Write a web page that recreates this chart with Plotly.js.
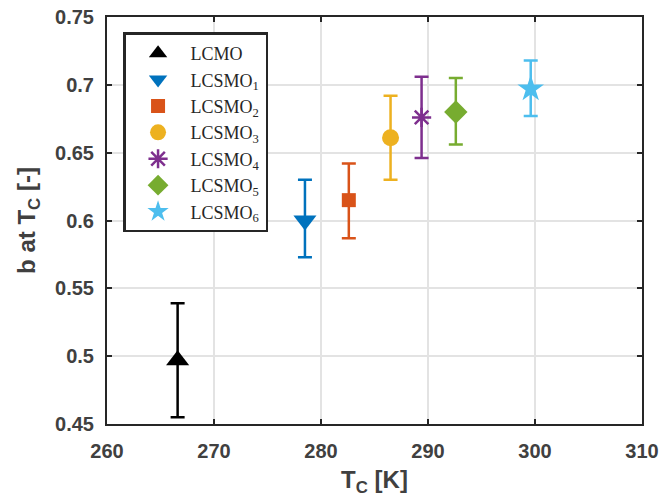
<!DOCTYPE html>
<html>
<head>
<meta charset="utf-8">
<script src="https://cdn.plot.ly/plotly-3.0.1.min.js"></script>
<style>html,body{margin:0;padding:0;background:#fff;}#chart{width:663px;height:500px;}</style>
</head>
<body>
<div id="chart"></div>
<script>
const names = ["LCMO", "LCSMO<sub>1</sub>", "LCSMO<sub>2</sub>", "LCSMO<sub>3</sub>", "LCSMO<sub>4</sub>", "LCSMO<sub>5</sub>", "LCSMO<sub>6</sub>"];
const tc = [266.6, 278.5, 282.6, 286.5, 289.4, 292.6, 299.6];
const bVal = [0.497, 0.600, 0.615, 0.661, 0.676, 0.680, 0.697];
const errPlus = [0.042, 0.030, 0.027, 0.031, 0.030, 0.025, 0.021];
const errMinus = [0.042, 0.027, 0.028, 0.031, 0.030, 0.024, 0.020];
const xTicks = [260, 270, 280, 290, 300, 310];
const yTicks = [0.45, 0.5, 0.55, 0.6, 0.65, 0.7, 0.75];
const colors = ["#000000", "#0072BD", "#D95319", "#EDB120", "#7E2F8E", "#77AC30", "#4DBEEE"];
const symbols = ["triangle-up", "triangle-down", "square", "circle", "asterisk-open", "diamond", "star"];
const sizes = [20, 20, 14, 17, 16, 18, 20];

const traces = names.map((n, i) => ({
  type: "scatter",
  mode: "markers",
  name: n,
  x: [tc[i]],
  y: [bVal[i]],
  error_y: {type: "data", symmetric: false, array: [errPlus[i]], arrayminus: [errMinus[i]], color: colors[i], thickness: 2.5, width: 7},
  marker: {symbol: symbols[i], size: sizes[i], color: colors[i], line: {color: colors[i], width: symbols[i] === "asterisk-open" ? 2.5 : 0}}
}));

const sans = "Liberation Sans, Arial, sans-serif";
const axisFont = {family: sans, size: 20, color: "#404040", weight: "bold"};
const layout = {
  width: 663, height: 500,
  margin: {l: 107, r: 21, t: 17, b: 76},
  paper_bgcolor: "#fff", plot_bgcolor: "#fff",
  showlegend: true,
  xaxis: {
    range: [260, 310], tickvals: xTicks, ticktext: xTicks.map(v => "<b>" + v + "</b>"),
    ticks: "inside", ticklen: 5, tickwidth: 2, tickcolor: "#262626",
    showline: true, linecolor: "#262626", linewidth: 2, mirror: "ticks",
    showgrid: true, gridcolor: "#e3e3e3", gridwidth: 2, zeroline: false,
    tickfont: axisFont, ticklabelstandoff: 8,
    title: {text: "<b>T<sub>C</sub> [K]</b>", font: {family: sans, size: 24, color: "#404040"}, standoff: 10}
  },
  yaxis: {
    range: [0.45, 0.75], tickvals: yTicks, ticktext: yTicks.map(v => "<b>" + v + "</b>"),
    ticks: "inside", ticklen: 5, tickwidth: 2, tickcolor: "#262626",
    showline: true, linecolor: "#262626", linewidth: 2, mirror: "ticks",
    showgrid: true, gridcolor: "#e3e3e3", gridwidth: 2, zeroline: false,
    tickfont: axisFont, ticklabelstandoff: 7,
    title: {text: "<b>b at T<sub>C</sub> [-]</b>", font: {family: sans, size: 24, color: "#404040"}, standoff: 13}
  },
  legend: {
    x: 0.03, y: 0.962, xanchor: "left", yanchor: "top",
    bgcolor: "#ffffff", bordercolor: "#262626", borderwidth: 2.5,
    font: {family: "Liberation Serif, DejaVu Serif, serif", size: 18, color: "#262626"},
    itemwidth: 55, tracegroupgap: 0
  }
};
Plotly.newPlot("chart", traces, layout, {displayModeBar: false, staticPlot: true});
</script>
</body>
</html>
